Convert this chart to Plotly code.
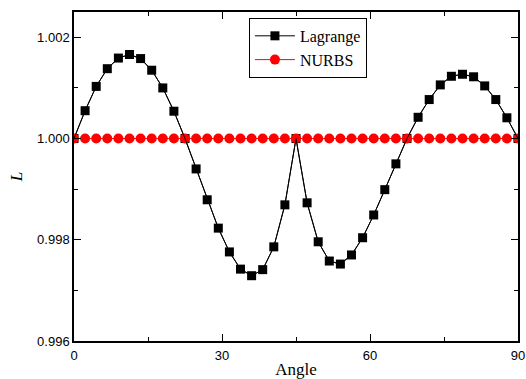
import plotly.graph_objects as go

angle = [0, 2.25, 4.5, 6.75, 9, 11.25, 13.5, 15.75, 18, 20.25,
         22.5, 24.75, 27, 29.25, 31.5, 33.75, 36, 38.25, 40.5, 42.75,
         45, 47.25, 49.5, 51.75, 54, 56.25, 58.5, 60.75, 63, 65.25,
         67.5, 69.75, 72, 74.25, 76.5, 78.75, 81, 83.25, 85.5, 87.75, 90]

lagrange = [1.00000, 1.00055, 1.00103, 1.00138, 1.00159, 1.00166, 1.00158, 1.00135, 1.00100, 1.00054,
            1.00000, 0.99940, 0.99879, 0.99823, 0.99776, 0.99742, 0.99729, 0.99741, 0.99786, 0.99869,
            1.00000, 0.99873, 0.99796, 0.99758, 0.99752, 0.99770, 0.99804, 0.99849, 0.99899, 0.99950,
            1.00000, 1.00042, 1.00077, 1.00106, 1.00123, 1.00127, 1.00122, 1.00104, 1.00077, 1.00041,
            1.00000]

nurbs = [1.0] * 41

fig = go.Figure()
fig.add_trace(go.Scatter(x=angle, y=lagrange, name="Lagrange", mode="lines+markers",
                         line=dict(color="black", width=1),
                         marker=dict(symbol="square", size=9, color="black")))
fig.add_trace(go.Scatter(x=angle, y=nurbs, name="NURBS", mode="lines+markers",
                         line=dict(color="red", width=1),
                         marker=dict(symbol="circle", size=10, color="red")))
# Lagrange connecting line drawn above the red markers, as in the reference
fig.add_trace(go.Scatter(x=angle, y=lagrange, mode="lines", showlegend=False, hoverinfo="skip",
                         line=dict(color="black", width=1)))

axis_common = dict(showline=True, linecolor="black", linewidth=1.5, mirror="ticks",
                   ticks="inside", ticklen=7, tickwidth=1, tickcolor="black",
                   showgrid=False, zeroline=False, automargin=False,
                   tickfont=dict(family="Liberation Sans, Arial", size=13, color="black"))

fig.update_xaxes(range=[0, 90], tickvals=[0, 30, 60, 90], ticklabelstandoff=2,
                 minor=dict(ticks="inside", ticklen=4, tickcolor="black", dtick=15, tick0=0),
                 title=dict(text="Angle", font=dict(family="Liberation Serif, Times New Roman", size=17, color="black"),
                            standoff=4),
                 **axis_common)
fig.update_yaxes(range=[0.996, 1.0025], tickvals=[0.996, 0.998, 1.000, 1.002], tickformat=".3f",
                 minor=dict(ticks="inside", ticklen=4, tickcolor="black", dtick=0.001, tick0=0.996),
                 title=dict(text="<i>L</i>", font=dict(family="Liberation Serif, Times New Roman", size=17, color="black"),
                            standoff=10),
                 **axis_common)

fig.update_layout(width=526, height=379, margin=dict(l=74, r=8, t=12, b=38),
                  paper_bgcolor="white", plot_bgcolor="white",
                  legend=dict(x=0.394, y=0.982, xanchor="left", yanchor="top",
                              bordercolor="black", borderwidth=1, bgcolor="white",
                              font=dict(family="Liberation Serif, Times New Roman", size=16, color="black"),
                              tracegroupgap=0, itemwidth=40))

fig.write_html("out.html")
